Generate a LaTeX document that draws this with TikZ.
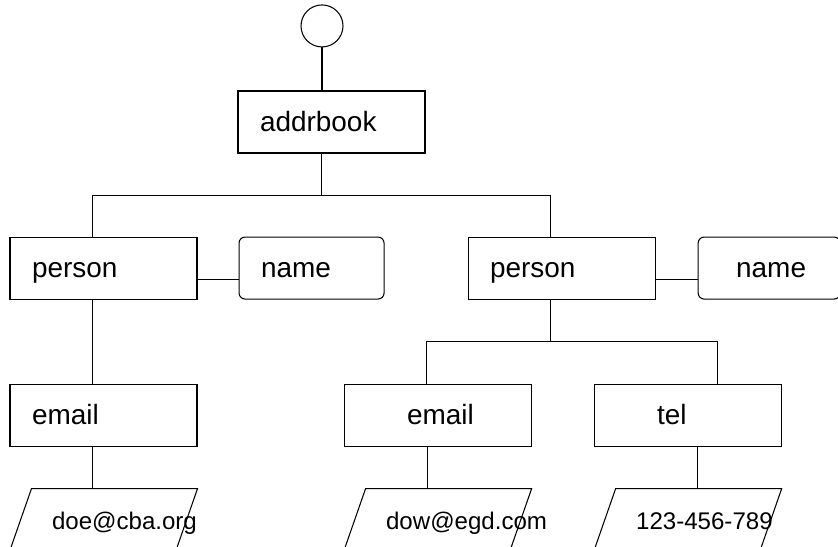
\documentclass[tikz,border=0pt]{standalone}
\usepackage{fontspec}
\setmainfont{Liberation Sans}
\usetikzlibrary{positioning}

\newcommand\elemfont{\fontsize{15.9}{18}\selectfont}
\newcommand\valfont{\fontsize{13.7}{16}\selectfont}

\tikzstyle{elem}=[rectangle, draw, minimum width=3.74cm, minimum height=1.24cm, inner xsep=0.44cm, inner ysep=0, text width=2.86cm, align=left, text height=1.35em, text depth=0.25em, font=\elemfont]
\tikzstyle{attr}=[elem, rounded corners=0.12cm, minimum width=2.9cm, text width=2.02cm]
\tikzstyle{value}=[rectangle, minimum width=3.74cm, minimum height=1.24cm, inner xsep=0.84cm, inner ysep=0, text width=2.06cm, align=left, text height=1.3em, text depth=0.22em, font=\valfont]

\begin{document}
\begin{tikzpicture}[line width=0.6pt]
        \useasboundingbox (0,0) rectangle (16.76,10.94);

        % Document node and root element
        \node[elem](addrbook) at (6.63,8.50){addrbook};
        \node[circle, draw, minimum size=0.84cm, inner sep=0, above = 0.86cm of addrbook, xshift=-0.19cm](root){};

        % First person entry
        \node[elem, below = 1.66cm of addrbook, xshift=-4.56cm](person left){person};
        \node[attr, right = 0.82cm of person left](name left){name};
        \node[elem, below = 1.68cm of person left](email left){email};
        \node[value, below = 0.84cm of email left](doe){\mbox{doe@cba.org}};

        % Second person entry
        \node[elem, right = 1.66cm of name left](person right){person};
        \node[attr, right = 0.84cm of person right, minimum width=2.84cm, text width=1.96cm](name right){\hspace*{0.32cm}name};
        \node[elem, below = 1.68cm of person right, xshift=-2.48cm](email right){\hspace*{0.82cm}email};
        \node[elem, right = 1.24cm of email right](tel){\hspace*{0.82cm}tel};
        \node[value, below = 0.84cm of email right](dow){\mbox{dow@egd.com}};
        \node[value, below = 0.84cm of tel](phone){\mbox{123-456-789}};

        % Slanted outlines of the text values
        \foreach \val in {doe, dow, phone} {
            \draw (\val.south west) -- ([xshift=0.44cm]\val.north west) -- (\val.north east)
                -- ([xshift=-0.44cm]\val.south east) -- cycle;
        }

        % Tree lines
        \draw (root.south) -- (root.south |- addrbook.north);
        \draw ([xshift=1.68cm]addrbook.south west) -- ++(0,-0.84) coordinate (bus top);
        \draw ([xshift=1.66cm]person left.north west) |- (bus top) -| ([xshift=1.66cm]person right.north west);
        \draw ([yshift=-0.22cm]person left.east) -- ([yshift=-0.22cm]name left.west);
        \draw ([yshift=-0.22cm]person right.east) -- ([yshift=-0.22cm]name right.west);
        \draw ([xshift=1.66cm]person left.south west) -- ([xshift=1.66cm]email left.north west);
        \draw ([xshift=1.66cm]person right.south west) -- ++(0,-0.84) coordinate (bus mid);
        \draw ([xshift=1.66cm]email right.north west) |- (bus mid) -| ([xshift=2.48cm]tel.north west);

        \draw ([xshift=1.66cm]email left.south west) coordinate (a) -- (a |- doe.north);
        \draw ([xshift=1.68cm]email right.south west) coordinate (b) -- (b |- dow.north);
        \draw ([xshift=2.08cm]tel.south west) coordinate (c) -- (c |- phone.north);
    \end{tikzpicture}
\end{document}
